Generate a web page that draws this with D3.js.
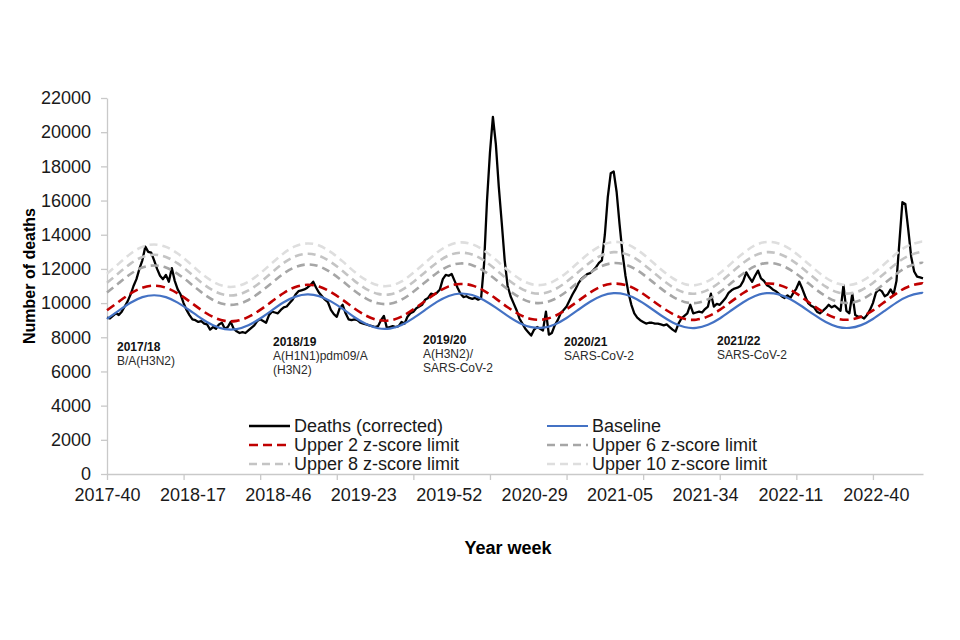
<!DOCTYPE html>
<html>
<head>
<meta charset="utf-8">
<title>Weekly deaths with baseline and z-score limits</title>
<script src="https://d3js.org/d3.v7.min.js"></script>
<style>
  body { margin: 0; background: #fff; }
  text { font-family: "Liberation Sans", Arial, sans-serif; }
</style>
</head>
<body>
<div id="chart"></div>
<script>
// weeks in each ISO year, used to build the year-week categories
var yearWeeks = {2017: 52, 2018: 52, 2019: 52, 2020: 53, 2021: 52, 2022: 52, 2023: 52};
var startYear = 2017, startWeek = 40;

var labelWeeks = ["2017-40", "2018-17", "2018-46", "2019-23", "2019-52",
                  "2020-29", "2021-05", "2021-34", "2022-11", "2022-40"];
var yTicks = [0, 2000, 4000, 6000, 8000, 10000, 12000, 14000, 16000, 18000, 20000, 22000];

// weekly deaths (corrected), from 2017-40
var deaths = [
  9150, 9100, 9250, 9400, 9300, 9500, 9800, 10100, 10500, 11000,
  11400, 12000, 12500, 13300, 13000, 12950, 12500, 12000, 11600, 11400,
  11650, 11250, 12050, 11300, 10800, 10500, 10000, 9600, 9300, 9050,
  9000, 8900, 8950, 8800, 8750, 8450, 8600, 8500, 8750, 8850,
  8500, 8600, 8900, 8500, 8350, 8250, 8300, 8250, 8400, 8550,
  8700, 8950, 9050, 8950, 8850, 9300, 9500, 9450, 9400, 9600,
  9750, 9800, 10000, 10200, 10500, 10700, 10750, 10800, 10900, 11050,
  11250, 10900, 10600, 10400, 10200, 10050, 9600, 9350, 9200, 9700,
  9900, 9400, 9050, 9000, 9050, 9000, 8850, 8800, 8750, 8700,
  8650, 8600, 8650, 9000, 9250, 8550, 8600, 8650, 8600, 8650,
  8900, 8800, 9200, 9400, 9500, 9700, 9800, 9900, 10200, 10300,
  10550, 10500, 10600, 10800, 11400, 11650, 11600, 11700, 11300, 10900,
  10550, 10350, 10400, 10300, 10250, 10300, 10200, 10300, 12300, 16000,
  18800, 20900, 19300, 16800, 14700, 12500, 11000, 10400, 10000, 9600,
  9100, 8800, 8500, 8300, 8100, 8450, 8600, 8500, 8400, 9500,
  8150, 8250, 8700, 9000, 9400, 9600, 9800, 10150, 10500, 10800,
  11150, 11400, 11550, 11700, 11750, 11900, 12100, 12350, 12500, 14000,
  16200, 17600, 17700, 16500, 14600, 12900, 11600, 10600, 9900, 9400,
  9150, 9000, 8900, 8800, 8850, 8850, 8800, 8800, 8750, 8700,
  8750, 8600, 8450, 8330, 8800, 9100, 9250, 9400, 9900, 9400,
  9450, 9500, 9450, 9650, 9800, 10550, 9800, 9950, 9900, 10100,
  10300, 10600, 10750, 10850, 10900, 11000, 11300, 11800, 11500, 11250,
  11600, 11900, 11450, 11300, 11050, 10950, 10800, 10700, 10550, 10400,
  10300, 10450, 10300, 10600, 10850, 11250, 10850, 10400, 10000, 9850,
  9750, 9500, 9400, 9550, 9700, 9900, 9750, 9850, 9700, 9550,
  11050, 9550, 9400, 10550, 9300, 9200, 9200, 9100, 9300, 9600,
  10000, 10600, 10800, 10700, 10400, 10500, 10800, 10500, 11300, 13600,
  15900, 15800, 14300, 12700, 11850, 11550, 11500, 11450
];

// smooth series, read every 4th week (plus the last week)
var baseline = [
  9080, 9560, 10020, 10350, 10460, 10350, 10030, 9580, 9100, 8700,
  8480, 8480, 8700, 9100, 9580, 10050, 10380, 10510, 10410, 10100,
  9660, 9170, 8770, 8530, 8510, 8720, 9120, 9600, 10070, 10420,
  10560, 10470, 10170, 9730, 9250, 8840, 8590, 8560, 8750, 9130,
  9610, 10080, 10430, 10580, 10500, 10210, 9770, 9290, 8870, 8600,
  8550, 8730, 9100, 9580, 10050, 10420, 10580, 10510, 10230, 9800,
  9320, 8890, 8610, 8550, 8710, 9070, 9550, 10030, 10400, 10580,
  10590
];
var upper2 = [
  9580, 10080, 10560, 10900, 11020, 10900, 10570, 10100, 9600, 9190,
  8960, 8960, 9190, 9600, 10100, 10590, 10940, 11070, 10970, 10640,
  10190, 9680, 9260, 9010, 8990, 9210, 9630, 10120, 10610, 10980,
  11120, 11030, 10720, 10260, 9760, 9330, 9070, 9040, 9240, 9640,
  10130, 10620, 10990, 11140, 11060, 10760, 10300, 9800, 9370, 9080,
  9030, 9220, 9600, 10100, 10590, 10980, 11140, 11070, 10780, 10330,
  9830, 9390, 9090, 9030, 9200, 9570, 10070, 10570, 10960, 11140,
  11150
];
var upper6 = [
  10620, 11170, 11700, 12080, 12200, 12080, 11710, 11190, 10640, 10180,
  9930, 9930, 10180, 10640, 11190, 11730, 12110, 12260, 12150, 11790,
  11280, 10720, 10260, 9990, 9960, 10200, 10660, 11220, 11760, 12160,
  12320, 12220, 11870, 11370, 10810, 10340, 10050, 10020, 10240, 10680,
  11230, 11770, 12170, 12340, 12250, 11920, 11410, 10860, 10380, 10070,
  10010, 10220, 10640, 11190, 11730, 12160, 12340, 12260, 11940, 11450,
  10890, 10400, 10080, 10010, 10190, 10610, 11160, 11710, 12140, 12340,
  12350
];
var upper8 = [
  11190, 11760, 12310, 12700, 12830, 12700, 12320, 11790, 11210, 10740,
  10480, 10480, 10740, 11210, 11790, 12350, 12740, 12890, 12770, 12400,
  11880, 11300, 10820, 10540, 10510, 10760, 11240, 11810, 12370, 12790,
  12950, 12840, 12490, 11960, 11390, 10910, 10610, 10570, 10800, 11250,
  11820, 12380, 12800, 12980, 12880, 12540, 12010, 11440, 10940, 10620,
  10560, 10770, 11210, 11790, 12350, 12790, 12980, 12890, 12560, 12050,
  11480, 10960, 10630, 10560, 10750, 11180, 11750, 12320, 12760, 12980,
  12990
];
var upper10 = [
  11720, 12310, 12890, 13290, 13430, 13290, 12900, 12340, 11740, 11250,
  10980, 10980, 11250, 11740, 12340, 12920, 13330, 13490, 13370, 12980,
  12440, 11830, 11340, 11040, 11010, 11270, 11770, 12360, 12950, 13380,
  13550, 13440, 13070, 12530, 11930, 11420, 11110, 11070, 11310, 11780,
  12380, 12960, 13390, 13580, 13480, 13120, 12580, 11980, 11460, 11120,
  11060, 11290, 11740, 12340, 12920, 13380, 13580, 13490, 13150, 12610,
  12020, 11480, 11140, 11060, 11260, 11710, 12300, 12900, 13360, 13580,
  13590
];

var seriesNames = ["Deaths (corrected)", "Baseline", "Upper 2 z-score limit",
                   "Upper 6 z-score limit", "Upper 8 z-score limit", "Upper 10 z-score limit"];

var seasons = ["2017/18", "2018/19", "2019/20", "2020/21", "2021/22"];
var seasonNotes = [["B/A(H3N2)"], ["A(H1N1)pdm09/A", "(H3N2)"], ["A(H3N2)/", "SARS-CoV-2"],
                   ["SARS-CoV-2"], ["SARS-CoV-2"]];

// ---- categories ----
var weeks = [];
var yr = startYear, wk = startWeek;
while (weeks.length < deaths.length) {
  weeks.push(yr + "-" + (wk < 10 ? "0" + wk : wk));
  wk++;
  if (wk > yearWeeks[yr]) { yr++; wk = 1; }
}
var n = weeks.length;
var smoothIdx = d3.range(0, n, 4);
if (smoothIdx[smoothIdx.length - 1] !== n - 1) smoothIdx.push(n - 1);

// ---- layout ----
var W = 960, H = 640;
var margin = {top: 98, left: 107, right: 37, bottom: 166};
var width = W - margin.left - margin.right;
var height = H - margin.top - margin.bottom;
var axisColor = "#c9c9c9";
var fontStack = "'Liberation Sans', Arial, sans-serif";

var svg = d3.select("#chart").append("svg")
  .attr("width", W).attr("height", H);
svg.append("rect").attr("width", W).attr("height", H).attr("fill", "#fff");

var g = svg.append("g")
  .attr("transform", "translate(" + margin.left + "," + margin.top + ")");

var x = d3.scaleLinear().domain([0, n - 1]).range([0, width]);
var y = d3.scaleLinear().domain([0, 22000]).range([height, 0]);

// y axis
var yAxis = g.append("g")
  .call(d3.axisLeft(y).tickValues(yTicks).tickFormat(d3.format("d"))
    .tickSize(6).tickSizeOuter(0).tickPadding(10));
yAxis.select(".domain").attr("stroke", axisColor).attr("stroke-width", 1.3);
yAxis.selectAll(".tick line").attr("stroke", axisColor).attr("stroke-width", 1.3);
yAxis.selectAll("text").attr("font-size", 18).attr("fill", "#1a1a1a")
  .style("font-family", fontStack);

// x axis: tick marks every 26 weeks, labels every 29 weeks
var xTicks = g.append("g")
  .attr("transform", "translate(0," + height + ")")
  .call(d3.axisBottom(x).tickValues(d3.range(0, n, 26)).tickFormat("").tickSize(6).tickSizeOuter(0));
xTicks.select(".domain").attr("stroke", axisColor).attr("stroke-width", 1.3);
xTicks.selectAll(".tick line").attr("stroke", axisColor).attr("stroke-width", 1.3);

var labelIdx = labelWeeks.map(function(w) { return weeks.indexOf(w); });
var xLabels = g.append("g")
  .attr("transform", "translate(0," + height + ")")
  .call(d3.axisBottom(x).tickValues(labelIdx)
    .tickFormat(function(i) { return weeks[i]; }).tickSize(0).tickPadding(14));
xLabels.select(".domain").remove();
xLabels.selectAll("text").attr("font-size", 18).attr("fill", "#1a1a1a")
  .style("font-family", fontStack);

// ---- lines ----
var styles = [
  {color: "#000000", width: 2.3, dash: null},
  {color: "#4472c4", width: 2.2, dash: null},
  {color: "#c00000", width: 2.6, dash: "9,5"},
  {color: "#a6a6a6", width: 2.6, dash: "8,5"},
  {color: "#c4c4c4", width: 2.6, dash: "8,5"},
  {color: "#dedede", width: 2.6, dash: "8,5"}
];

var weeklyLine = d3.line()
  .x(function(d, i) { return x(i); })
  .y(function(d) { return y(d); });

var smoothLine = d3.line()
  .x(function(d, i) { return x(smoothIdx[i]); })
  .y(function(d) { return y(d); })
  .curve(d3.curveNatural);

var smoothSeries = [baseline, upper2, upper6, upper8, upper10];

g.append("path").datum(deaths)
  .attr("d", weeklyLine)
  .attr("fill", "none")
  .attr("stroke", styles[0].color)
  .attr("stroke-width", styles[0].width)
  .attr("stroke-linejoin", "round");

smoothSeries.forEach(function(s, k) {
  var st = styles[k + 1];
  g.append("path").datum(s)
    .attr("d", smoothLine)
    .attr("fill", "none")
    .attr("stroke", st.color)
    .attr("stroke-width", st.width)
    .attr("stroke-dasharray", st.dash);
});

// ---- season annotations ----
var notePos = [[117, 347], [273, 342], [423, 340], [564, 342], [717, 341]];
seasons.forEach(function(s, k) {
  svg.append("text")
    .attr("x", notePos[k][0]).attr("y", notePos[k][1])
    .attr("dy", "0.35em")
    .attr("font-size", 12).attr("font-weight", "bold").attr("fill", "#111")
    .text(s);
  seasonNotes[k].forEach(function(line, j) {
    svg.append("text")
      .attr("x", notePos[k][0]).attr("y", notePos[k][1] + 14 * (j + 1))
      .attr("dy", "0.35em")
      .attr("font-size", 12).attr("fill", "#2a2a2a")
      .text(line);
  });
});

// ---- legend ----
var legendOrder = [0, 2, 4, 1, 3, 5];
var legend = svg.append("g");
legendOrder.forEach(function(k, pos) {
  var col = Math.floor(pos / 3), row = pos % 3;
  var lx = col === 0 ? 249 : 547;
  var ly = 426 + row * 19;
  legend.append("line")
    .attr("x1", lx).attr("x2", lx + 41)
    .attr("y1", ly).attr("y2", ly)
    .attr("stroke", styles[k].color)
    .attr("stroke-width", styles[k].width)
    .attr("stroke-dasharray", styles[k].dash);
  legend.append("text")
    .attr("x", lx + 45).attr("y", ly)
    .attr("dy", "0.35em")
    .attr("font-size", 18).attr("fill", "#1a1a1a")
    .text(seriesNames[k]);
});

// ---- axis titles ----
svg.append("text")
  .attr("transform", "translate(29," + (margin.top + 178) + ") rotate(-90)")
  .attr("text-anchor", "middle").attr("dy", "0.35em")
  .attr("font-size", 16).attr("font-weight", "bold")
  .text("Number of deaths");

svg.append("text")
  .attr("x", 508).attr("y", 548)
  .attr("text-anchor", "middle").attr("dy", "0.35em")
  .attr("font-size", 18).attr("font-weight", "bold")
  .text("Year week");
</script>
</body>
</html>
